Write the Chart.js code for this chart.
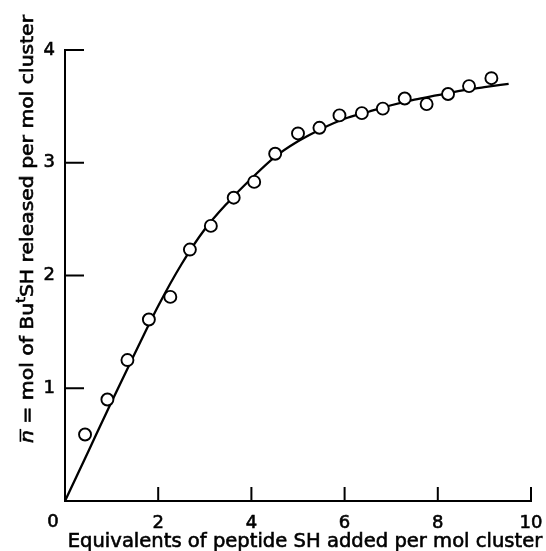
<!DOCTYPE html>
<html>
<head>
<meta charset="utf-8">
<script src="https://cdn.jsdelivr.net/npm/chart.js@4/dist/chart.umd.min.js"></script>
<style>
  body { margin: 0; background: #fff; }
  #wrap { width: 546px; height: 551px; }
</style>
</head>
<body>
<div id="wrap"><canvas id="plot"></canvas></div>
<script>
// measured points: equivalents added vs mol released
const eqAdded = [0.43, 0.91, 1.34, 1.80, 2.26, 2.68, 3.13, 3.62, 4.06, 4.51, 5.00, 5.46, 5.89, 6.37, 6.82, 7.29, 7.76, 8.22, 8.67, 9.15]
const molReleased = [0.59, 0.90, 1.25, 1.61, 1.81, 2.23, 2.44, 2.69, 2.83, 3.08, 3.26, 3.31, 3.42, 3.44, 3.48, 3.57, 3.52, 3.61, 3.68, 3.75]

// fitted curve
const curveX = [0, 0.5, 1, 1.5, 2, 2.5, 3, 3.5, 4, 4.5, 5, 5.5, 6, 6.5, 7, 7.5, 8, 8.5, 9, 9.52]
const curveY = [0, 0.44, 0.88, 1.31, 1.73, 2.10, 2.41, 2.65, 2.86, 3.05, 3.19, 3.30, 3.39, 3.45, 3.51, 3.56, 3.60, 3.64, 3.67, 3.70]

const xTicks = [0, 2, 4, 6, 8, 10]
const yTicks = [0, 1, 2, 3, 4]

const xTitle = 'Equivalents of peptide SH added per mol cluster'
const FONT = '"DejaVu Sans", sans-serif'

const toXY = (xs, ys) => xs.map((x, i) => ({x: x, y: ys[i]}))

// fill + thin stroke so the lettering is a bit heavier
const inkText = (c, t, x, y) => {
  c.fillText(t, x, y)
  c.strokeText(t, x, y)
}

// inward tick marks, origin label and both axis titles
const axisDecor = {
  id: 'axisDecor',
  afterDraw(chart) {
    const c = chart.ctx
    const xs = chart.scales.x
    const ys = chart.scales.y
    const area = chart.chartArea
    c.save()
    c.strokeStyle = '#000'
    c.lineWidth = 2
    c.beginPath()
    yTicks.filter(v => v > 0).forEach(v => {
      const py = ys.getPixelForValue(v)
      c.moveTo(area.left, py)
      c.lineTo(area.left + 19, py)
    })
    xTicks.filter(v => v > 0).forEach(v => {
      const px = xs.getPixelForValue(v)
      c.moveTo(px, area.bottom)
      c.lineTo(px, area.bottom - 14)
    })
    c.stroke()

    c.fillStyle = '#000'
    c.lineWidth = 0.6

    // shared origin label
    c.font = '18px ' + FONT
    c.textAlign = 'center'
    c.textBaseline = 'top'
    inkText(c, '0', xs.getPixelForValue(0) - 12, area.bottom + 12)

    // x title, fitted between 68 and 543
    let size = 17
    c.font = size + 'px ' + FONT
    size = size * 475 / c.measureText(xTitle).width
    c.font = size + 'px ' + FONT
    c.textBaseline = 'alphabetic'
    inkText(c, xTitle, 305, 547)

    // rotated y title with italic n-bar and superscript t
    const parts = [
      {t: 'n', italic: true},
      {t: ' = mol of Bu'},
      {t: 't', sup: true},
      {t: 'SH released per mol cluster'}
    ]
    const fs = 17
    const fontOf = p => (p.italic ? 'italic ' : '') + (p.sup ? fs * 0.72 : fs) + 'px ' + FONT
    let total = 0
    parts.forEach(p => { c.font = fontOf(p); p.w = c.measureText(p.t).width; total += p.w })
    const k = 428 / total
    c.translate(33, 229)
    c.rotate(-Math.PI / 2)
    c.scale(k, 1)
    c.textAlign = 'left'
    let cx = -total / 2
    parts.forEach(p => {
      c.font = fontOf(p)
      c.lineWidth = 0.6
      inkText(c, p.t, cx, p.sup ? -fs * 0.5 : 0)
      if (p.italic) {
        c.lineWidth = 1.6
        c.beginPath()
        c.moveTo(cx + 1, -fs * 0.74)
        c.lineTo(cx + p.w + 1, -fs * 0.74)
        c.stroke()
      }
      cx += p.w
    })
    c.restore()
  }
}

const tickFont = { family: FONT, size: 18 }

new Chart(document.getElementById('plot'), {
  type: 'scatter',
  data: {
    datasets: [
      {
        label: 'measured',
        data: toXY(eqAdded, molReleased),
        pointRadius: 6,
        pointHoverRadius: 6,
        pointBorderWidth: 1.9,
        pointBorderColor: '#000',
        pointBackgroundColor: '#fff',
        order: 0
      },
      {
        label: 'curve',
        data: toXY(curveX, curveY),
        showLine: true,
        pointRadius: 0,
        borderColor: '#000',
        borderWidth: 2.3,
        cubicInterpolationMode: 'monotone',
        order: 1
      }
    ]
  },
  options: {
    responsive: true,
    maintainAspectRatio: false,
    animation: false,
    events: [],
    layout: { padding: { top: 50, right: 15, left: 0, bottom: 0 } },
    plugins: {
      legend: { display: false },
      tooltip: { enabled: false }
    },
    scales: {
      x: {
        type: 'linear',
        min: 0,
        max: 10,
        afterFit: s => { s.height = 50; s.paddingLeft = 0; s.paddingRight = 0 },
        afterBuildTicks: s => { s.ticks = xTicks.map(v => ({value: v})) },
        grid: { display: false, drawTicks: false },
        border: { display: true, color: '#000', width: 2 },
        ticks: {
          padding: 12,
          color: '#000',
          font: tickFont,
          textStrokeColor: '#000',
          textStrokeWidth: 0.6,
          callback: v => v === 0 ? '' : String(v)
        }
      },
      y: {
        type: 'linear',
        min: 0,
        max: 4,
        afterFit: s => { s.width = 65; s.paddingTop = 0; s.paddingBottom = 0 },
        afterBuildTicks: s => { s.ticks = yTicks.map(v => ({value: v})) },
        grid: { display: false, drawTicks: false },
        border: { display: true, color: '#000', width: 2 },
        ticks: {
          padding: 10,
          color: '#000',
          font: tickFont,
          textStrokeColor: '#000',
          textStrokeWidth: 0.6,
          callback: v => v === 0 ? '' : String(v)
        }
      }
    }
  },
  plugins: [axisDecor]
})
</script>
</body>
</html>
